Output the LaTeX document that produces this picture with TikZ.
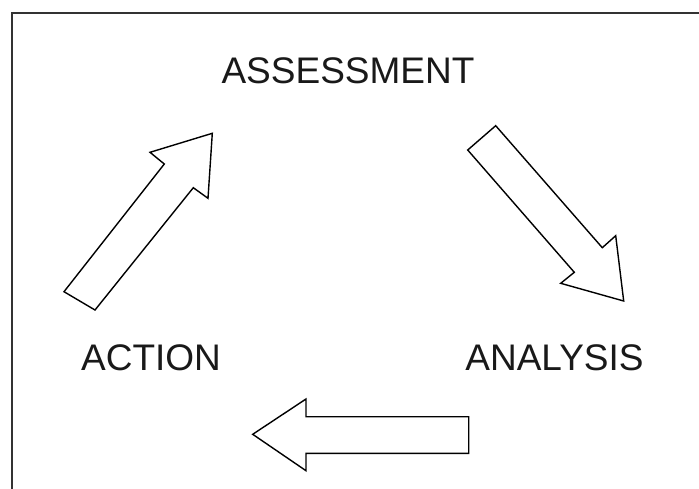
\documentclass[tikz,border=0pt]{standalone}
\usepackage{fontspec}
\setmainfont{Liberation Sans}
\begin{document}
\begin{tikzpicture}[x=1pt,y=-1pt,
  blockarrow/.style={draw=black,line width=1.4pt,fill=white,line join=miter},
  label/.style={font=\fontsize{37}{39}\selectfont,text=black!90,inner sep=0pt,anchor=base}]
\useasboundingbox (0,0) rectangle (699,488);
\draw[line width=2pt,draw=black!80] (12,495) coordinate (bl) -- (12,13) coordinate (tl) -- (705,13) coordinate (tr);
\node[label] (assess) at (348,83.5) {ASSESSMENT};
\node[label] (action) at (151,370.7) {ACTION};
\node[label] (analysis) at (554.5,370.7) {ANALYSIS};
% up-right arrow (ACTION -> ASSESSMENT)
\draw[blockarrow] (64,291.7) -- (164.3,164) -- (150,152.3) -- (212.3,133.3) -- (208,198.3) -- (193.3,187.7) -- (95,310) -- cycle;
% down-right arrow (ASSESSMENT -> ANALYSIS)
\draw[blockarrow] (495.7,125.7) -- (602.3,247.7) -- (615.7,235.7) -- (623.7,301) -- (560.7,283.3) -- (574.3,272.3) -- (467.7,150) -- cycle;
% left arrow (ANALYSIS -> ACTION)
\draw[blockarrow] (252.7,434.3) -- (306,399) -- (306,416.7) -- (468.7,416.7) -- (468.7,453.3) -- (306,453.3) -- (306,470.7) -- cycle;
\end{tikzpicture}
\end{document}
